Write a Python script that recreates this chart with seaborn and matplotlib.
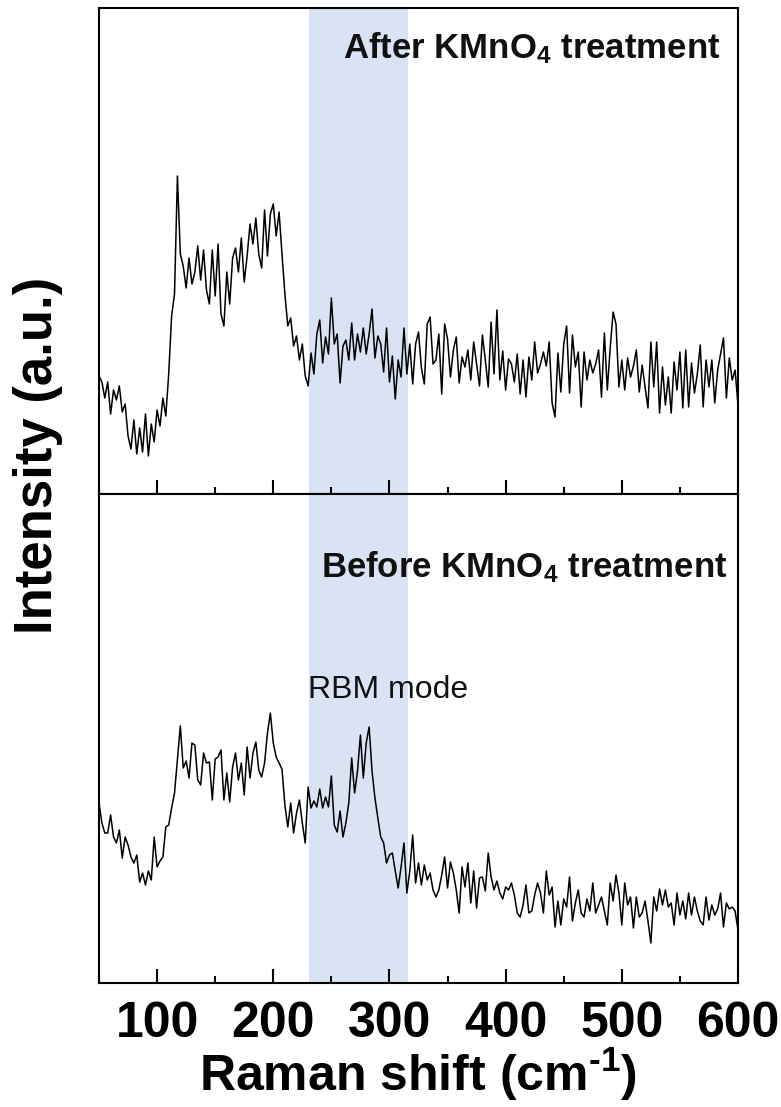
import numpy as np
import pandas as pd
import matplotlib
matplotlib.use("Agg")
import matplotlib.pyplot as plt
from matplotlib.ticker import MultipleLocator
import seaborn as sns

# ---------------- data ----------------
raman_shift = np.arange(50.0, 600.0 + 0.1, 2.5)  # cm^-1 grid

after_intensity = [
    118, 112, 96, 112, 80, 104, 94, 108, 82, 90,
    58, 45, 74, 40, 66, 42, 80, 38, 70, 52,
    84, 68, 96, 78, 120, 178, 200, 318, 240, 228,
    206, 236, 210, 222, 248, 214, 244, 204, 190, 244,
    198, 250, 180, 168, 222, 190, 236, 246, 222, 256,
    212, 238, 270, 250, 276, 240, 226, 284, 238, 280,
    290, 258, 282, 240, 200, 168, 176, 148, 158, 134,
    150, 118, 108, 141, 120, 160, 174, 131, 157, 140,
    196, 150, 160, 111, 148, 154, 134, 171, 134, 160,
    142, 166, 140, 160, 185, 136, 158, 150, 122, 166,
    112, 138, 95, 134, 117, 166, 120, 150, 110, 150,
    162, 126, 110, 170, 177, 130, 134, 160, 100, 170,
    155, 117, 144, 157, 111, 137, 127, 144, 114, 152,
    130, 108, 159, 134, 107, 172, 120, 184, 114, 143,
    104, 135, 130, 112, 140, 100, 134, 97, 137, 114,
    152, 121, 130, 142, 128, 152, 91, 77, 141, 102,
    150, 168, 101, 159, 127, 142, 87, 142, 114, 134,
    121, 130, 144, 97, 161, 104, 146, 182, 170, 107,
    134, 104, 136, 117, 128, 144, 102, 129, 107, 86,
    152, 107, 152, 81, 127, 89, 117, 81, 132, 104,
    142, 86, 144, 87, 131, 101, 120, 149, 87, 134,
    107, 134, 91, 124, 140, 156, 96, 136, 114, 124,
    89,
]

before_intensity = [
    180, 160, 150, 150, 168, 146, 140, 153, 125, 146,
    138, 126, 120, 128, 101, 110, 98, 112, 103, 146,
    116, 122, 126, 156, 158, 175, 190, 223, 257, 215,
    222, 205, 240, 238, 203, 198, 230, 220, 221, 183,
    224, 226, 233, 183, 210, 181, 216, 230, 203, 220,
    188, 236, 205, 230, 241, 213, 206, 220, 250, 270,
    240, 226, 220, 214, 178, 156, 180, 150, 170, 183,
    160, 140, 196, 175, 182, 176, 194, 175, 186, 176,
    207, 158, 151, 172, 146, 160, 180, 225, 190, 212,
    248, 205, 240, 256, 212, 185, 165, 146, 140, 120,
    128, 130, 112, 95, 116, 140, 90, 112, 148, 100,
    120, 98, 118, 103, 110, 93, 86, 93, 108, 126,
    95, 121, 110, 93, 70, 116, 96, 120, 80, 112,
    75, 105, 106, 92, 130, 106, 93, 102, 90, 84,
    96, 93, 100, 88, 70, 66, 78, 98, 70, 72,
    88, 100, 90, 70, 112, 88, 96, 56, 82, 58,
    84, 76, 106, 62, 80, 93, 70, 66, 84, 72,
    100, 70, 78, 86, 72, 58, 100, 82, 108, 90,
    58, 100, 78, 86, 55, 86, 66, 70, 82, 62,
    40, 86, 72, 94, 78, 93, 76, 80, 58, 90,
    68, 82, 64, 90, 68, 86, 72, 62, 58, 86,
    63, 78, 68, 74, 90, 56, 80, 74, 76, 72,
    53,
]

panel_labels = ["After KMnO$_{4}$ treatment", "Before KMnO$_{4}$ treatment"]
band_range = (231, 316)
x_ticks = [100, 200, 300, 400, 500, 600]

df_after = pd.DataFrame({"shift": raman_shift, "intensity": after_intensity})
df_before = pd.DataFrame({"shift": raman_shift, "intensity": before_intensity})

# ---------------- style ----------------
sns.set_theme(style="white")
plt.rcParams["font.family"] = ["Liberation Sans", "DejaVu Sans"]
plt.rcParams["mathtext.fontset"] = "custom"
plt.rcParams["mathtext.rm"] = "Liberation Sans:bold"
plt.rcParams["mathtext.bf"] = "Liberation Sans:bold"
plt.rcParams["mathtext.it"] = "Liberation Sans:bold"
plt.rcParams["text.color"] = "black"
plt.rcParams["xtick.color"] = "black"
plt.rcParams["axes.labelcolor"] = "black"

W, H = 781, 1107
fig = plt.figure(figsize=(W / 100, H / 100), dpi=100)
left = 99 / W
width = (738 - 99) / W
ax_top = fig.add_axes([left, 1 - 494 / H, width, (494 - 8) / H])
ax_bot = fig.add_axes([left, 1 - 983 / H, width, (983 - 494) / H])

band_color = "#dae3f3"
for ax, df, ylim in [(ax_top, df_after, 486), (ax_bot, df_before, 489)]:
    ax.axvspan(band_range[0], band_range[1], color=band_color, lw=0, zorder=0)
    sns.lineplot(data=df, x="shift", y="intensity", ax=ax, color="black",
                 lw=1.1, zorder=2)
    ax.set_xlim(50, 600)
    ax.set_ylim(0, ylim)
    ax.set_yticks([])
    ax.set_xticks(x_ticks)
    ax.xaxis.set_minor_locator(MultipleLocator(50))
    ax.tick_params(axis="x", which="major", direction="in", length=10, width=1.5,
                   bottom=True, top=False, labelsize=36, pad=13,
                   colors="black")
    ax.tick_params(axis="x", which="minor", direction="in", length=5, width=1.5,
                   bottom=True, top=False, colors="black")
    ax.set_ylabel("")
    ax.set_xlabel("")
    for s in ax.spines.values():
        s.set_linewidth(1.5)
        s.set_color("black")
        s.set_zorder(5)

ax_top.tick_params(axis="x", labelbottom=False)
for lab in ax_bot.get_xticklabels():
    lab.set_fontweight("bold")

ax_top.text(0.972, 0.918, panel_labels[0], transform=ax_top.transAxes,
            ha="right", va="center", fontsize=25, fontweight="bold",
            color="#111111", zorder=6)
ax_bot.text(0.984, 0.851, panel_labels[1], transform=ax_bot.transAxes,
            ha="right", va="center", fontsize=25, fontweight="bold",
            color="#111111", zorder=6)
ax_bot.text(230, 293, "RBM mode", ha="left", va="center", fontsize=23,
            color="#111111", zorder=6)

ax_bot.set_xlabel("Raman shift (cm$^{\\text{-}1}$)", fontsize=36,
                  fontweight="bold", labelpad=-1, color="black")
fig.text(38 / W, 1 - 455 / H, "Intensity (a.u.)", rotation=90, ha="center",
         va="center", fontsize=38, fontweight="bold", color="black")

fig.savefig("out.png", dpi=100)
